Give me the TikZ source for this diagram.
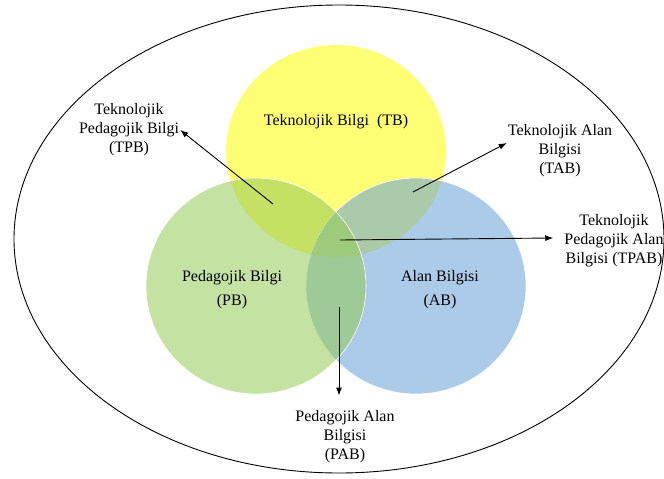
\documentclass[tikz,border=0pt]{standalone}
\usepackage{fontspec}
\setmainfont{Liberation Serif}
\usetikzlibrary{arrows.meta,positioning,calc}

\definecolor{tbyellow}{RGB}{255,255,117}
\definecolor{pbgreen}{RGB}{148,202,86}
\definecolor{abblue}{RGB}{102,160,215}

\begin{document}
\begin{tikzpicture}[x=1pt,y=-1pt,
  lbl/.style={align=center,font=\fontsize{16}{19}\selectfont,inner sep=1pt},
  pointer/.style={-{Latex[length=8pt,width=6pt]},line width=0.9pt}]
\useasboundingbox (0,0) rectangle (664,479);
% outer frame
\draw[line width=0.9pt] (339,239) ellipse [x radius=325, y radius=234];
% three circles
\fill[tbyellow] (336,151) ellipse [x radius=110, y radius=106];
\filldraw[fill=abblue,fill opacity=0.55,draw=white,line width=0.6pt] (416,286) ellipse [x radius=110, y radius=108];
\filldraw[fill=pbgreen,fill opacity=0.55,draw=white,line width=0.6pt] (256,286) ellipse [x radius=110, y radius=108];
% labels
\node[lbl] (tb) at (336,122) {Teknolojik Bilgi\ \ (TB)};
\node[lbl] (pb) at (232,290) {Pedagojik Bilgi\\[5pt](PB)};
\node[lbl] (ab) at (440,290) {Alan Bilgisi\\[5pt](AB)};
\node[lbl] (tpb) at (129,130) {Teknolojik\\Pedagojik Bilgi\\(TPB)};
\node[lbl] (tab) at (560,151) {Teknolojik Alan\\Bilgisi\\(TAB)};
\node[lbl] (tpab) at (614,241) {Teknolojik\\Pedagojik Alan\\Bilgisi (TPAB)};
\node[lbl] (pab) at (345,437) {Pedagojik Alan\\Bilgisi\\(PAB)};
% pointers
\coordinate (tpbpt) at (273,204);
\coordinate (tabpt) at (413,192);
\coordinate (tpabpt) at (340,240);
\coordinate (pabpt) at (339,307);
\draw[pointer] (tpbpt) -- (tpb.east);
\draw[pointer] (tabpt) -- ([yshift=8pt]tab.west);
\draw[pointer] (tpabpt) -- ([shift={(-10pt,3pt)}]tpab.west);
\draw[pointer] (pabpt) -- ($(pabpt |- pab.north)+(0,-14)$);
\end{tikzpicture}
\end{document}
